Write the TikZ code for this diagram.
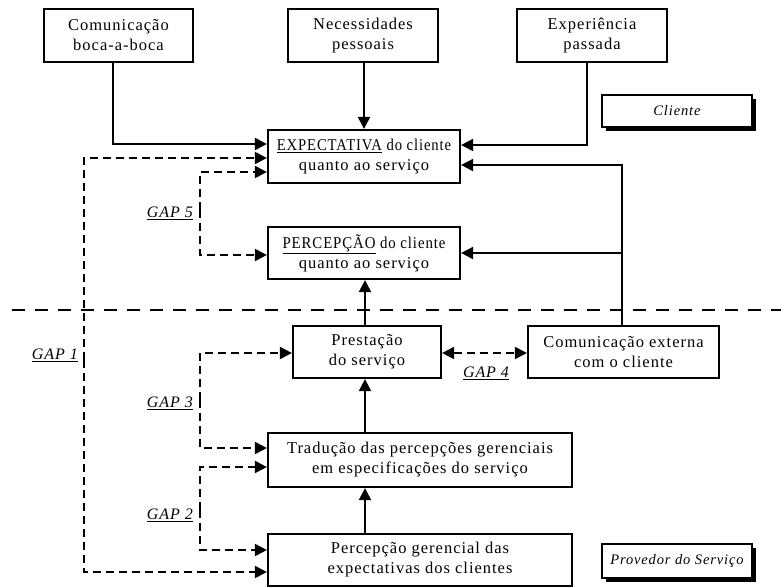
\documentclass[tikz,border=0pt]{standalone}
\usepackage{fontspec}
\setmainfont{Liberation Serif}[LetterSpace=6]
\usetikzlibrary{arrows.meta,shadows}
\newcommand{\squeeze}[2]{\scalebox{#1}[1]{#2}}
\begin{document}
\begin{tikzpicture}[x=1pt,y=-1pt,
  txt/.style={font=\fontsize{16.5}{20}\selectfont, align=center},
  box/.style={txt, draw, line width=2.2pt, inner sep=0pt},
  shbox/.style={box, fill=white, font=\fontsize{14.5}{20}\selectfont\itshape, drop shadow={shadow xshift=4pt, shadow yshift=-4pt, fill=black, opacity=1}},
  arr/.style={line width=2pt, -{Triangle[length=12pt,width=12pt]}},
  darr/.style={line width=2pt, dash pattern=on 8pt off 5pt, -{Triangle[length=12pt,width=12pt]}},
  sep/.style={line width=2.6pt, dash pattern=on 13pt off 10pt},
  gap/.style={font=\fontsize{16}{20}\selectfont\itshape, inner sep=0pt}]
\useasboundingbox (0,0) rectangle (781,588);

% boxes
\node[box, minimum width=149pt, minimum height=53pt] (boca) at (118.5,35.5) {Comunicação\\boca-a-boca};
\node[box, minimum width=150pt, minimum height=53pt] (nec) at (363,35.5) {Necessidades\\pessoais};
\node[box, minimum width=150pt, minimum height=53pt] (exp) at (592,35.5) {Experiência\\passada};
\node[shbox, minimum width=150pt, minimum height=32pt] (cli) at (677,111) {Cliente};
\node[box, minimum width=192pt, minimum height=53pt] (expect) at (364,156.5) {\squeeze{0.89}{\underline{EXPECTATIVA} do cliente}\\quanto ao serviço};
\node[box, minimum width=192pt, minimum height=52pt] (perc) at (364,253) {\squeeze{0.9}{\underline{PERCEPÇÃO} do cliente}\\quanto ao serviço};
\node[box, minimum width=148pt, minimum height=52pt] (prest) at (367,352) {Prestação\\do serviço};
\node[box, minimum width=191pt, minimum height=52pt] (com) at (623.5,352) {Comunicação externa\\com o cliente};
\node[box, minimum width=304pt, minimum height=54pt] (trad) at (420,460) {Tradução das percepções gerenciais\\em especificações do serviço};
\node[box, minimum width=304pt, minimum height=52pt] (pg) at (420,560) {Percepção gerencial das\\expectativas dos clientes};
\node[shbox, minimum width=150pt, minimum height=34pt] (prov) at (677,561) {Provedor do Serviço};

% separator
\coordinate (sepL) at (12,310);
\coordinate (sepR) at (781,310);
\draw[sep] (sepL) -- (sepR);

% solid connectors
\draw[arr] ([xshift=-5.5pt]boca.south) |- ([yshift=12.5pt]expect.west);
\draw[arr] ([xshift=1pt]nec.south) -- ([xshift=1pt]nec.south |- expect.north);
\draw[arr] ([xshift=-5.5pt]exp.south) |- ([yshift=11.5pt]expect.east);
\draw[arr] ([xshift=-1.5pt]com.north) |- ([yshift=-8.5pt]expect.east);
\draw[arr] ([xshift=-1.5pt]com.north |- perc.east) -- (perc.east);
\draw[arr] ([xshift=-2pt]prest.north) -- ([xshift=-2pt]prest.north |- perc.south);
\draw[arr] ([xshift=-2pt]prest.south |- trad.north) -- ([xshift=-2pt]prest.south);
\draw[arr] ([xshift=-2pt]prest.south |- pg.north) -- ([xshift=-2pt]prest.south |- trad.south);

% dashed gaps
\coordinate (g1) at (84,360);
\coordinate (g5) at (200,210);
\coordinate (g3) at (200,400);
\coordinate (g2) at (200,510);
\draw[darr] (g1) |- ([yshift=-1.5pt]expect.west);
\draw[darr] (g1) |- ([yshift=-12pt]pg.west);
\draw[darr] (g5) |- ([yshift=-15.5pt]expect.west);
\draw[darr] (g5) |- ([yshift=-2pt]perc.west);
\draw[darr] (g3) |- ([yshift=-1pt]prest.west);
\draw[darr] (g3) |- ([yshift=12pt]trad.west);
\draw[darr] (g2) |- ([yshift=-7pt]trad.west);
\draw[darr] (g2) |- ([yshift=10pt]pg.west);
\draw[darr, {Triangle[length=12pt,width=12pt]}-{Triangle[length=12pt,width=12pt]}] ([yshift=-1pt]prest.east) -- ([yshift=-1pt]com.west);

% gap labels
\node[gap, anchor=east] (l5) at (193,213) {\underline{GAP 5}};
\node[gap, anchor=east] (l1) at (78,355) {\underline{GAP 1}};
\node[gap, anchor=east] (l3) at (193,403) {\underline{GAP 3}};
\node[gap, anchor=east] (l2) at (193,515) {\underline{GAP 2}};
\node[gap] (l4) at (486,373) {\underline{GAP 4}};
\end{tikzpicture}
\end{document}
